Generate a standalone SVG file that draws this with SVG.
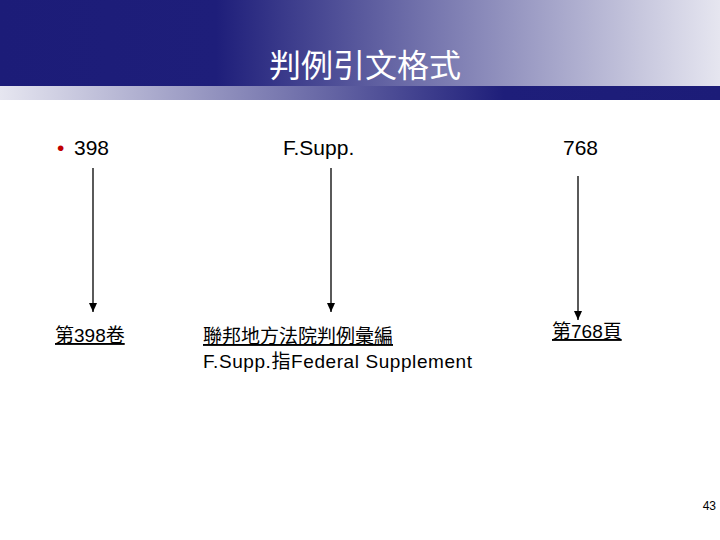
<svg xmlns="http://www.w3.org/2000/svg" width="720" height="540" viewBox="0 0 720 540">
<defs>
<linearGradient id="g1" x1="0" x2="1" y1="0" y2="0"><stop offset="0" stop-color="#1c1c78"/><stop offset="0.3" stop-color="#1e1e7a"/><stop offset="0.6" stop-color="#7676ae"/><stop offset="1" stop-color="#e6e6f0"/></linearGradient>
<linearGradient id="g2" x1="0" x2="1" y1="0" y2="0"><stop offset="0" stop-color="#e6e6f0"/><stop offset="0.4" stop-color="#7676ae"/><stop offset="0.7" stop-color="#1e1e7a"/><stop offset="1" stop-color="#1c1c78"/></linearGradient>
<marker id="ah" markerWidth="10" markerHeight="10" refX="9" refY="5" orient="auto" markerUnits="userSpaceOnUse"><path d="M0,1 L9,5 L0,9 Z" fill="#000"/></marker>
<style>
.t{font-family:"Liberation Sans","Noto Sans CJK TC",sans-serif;font-size:21px;fill:#000}
.l{font-family:"Liberation Sans","Noto Sans CJK TC",sans-serif;font-size:19px;fill:#000}
.u{text-decoration:underline}
.c line{stroke:#000;stroke-width:1.3;marker-end:url(#ah)}
</style>
</defs>
<rect width="720" height="540" fill="#fff"/>
<rect x="0" y="0" width="720" height="86" fill="url(#g1)"/>
<rect x="0" y="86" width="720" height="14" fill="url(#g2)"/>
<text x="365" y="77" text-anchor="middle" font-family="'Noto Sans CJK TC',sans-serif" font-size="32" fill="#fff">判例引文格式</text>
<g id="n1"><text x="57" y="155" class="t" style="fill:#c00000">•</text><text x="74" y="155" class="t">398</text></g>
<g id="n2"><text x="283" y="155" class="t">F.Supp.</text></g>
<g id="n3"><text x="563" y="155" class="t">768</text></g>
<g id="c" class="c">
<line x1="93" y1="168" x2="93" y2="312"/>
<line x1="331" y1="168" x2="331" y2="312"/>
<line x1="578" y1="176" x2="578" y2="320"/>
</g>
<g id="n4"><text x="55" y="342" class="l u">第398卷</text></g>
<g id="n5"><text x="203" y="343" class="l u">聯邦地方法院判例彙編</text><text x="203" y="368" class="l" textLength="269">F.Supp.指Federal Supplement</text></g>
<g id="n6"><text x="552" y="338" class="l u">第768頁</text></g>
<text x="716" y="510" text-anchor="end" font-family="Liberation Sans,sans-serif" font-size="12">43</text>
</svg>
